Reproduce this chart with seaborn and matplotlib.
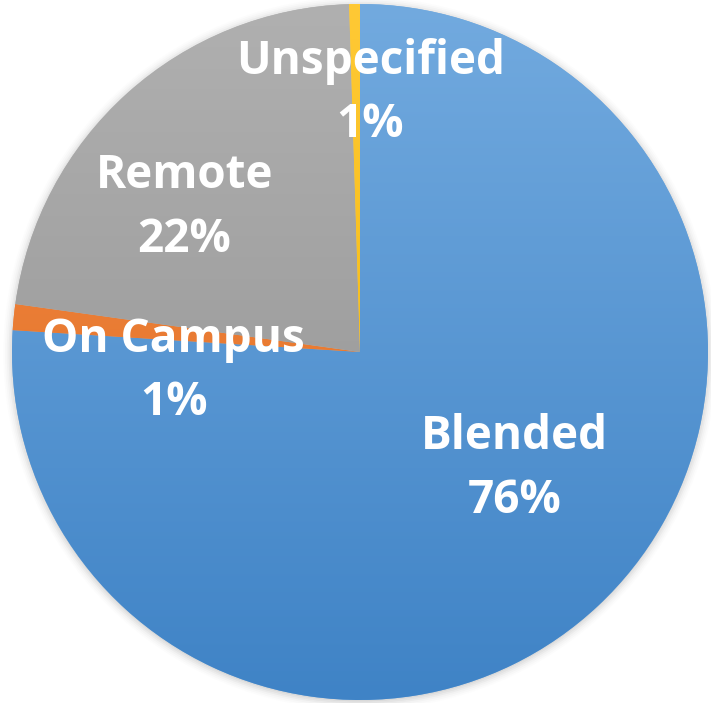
import numpy as np
import matplotlib
matplotlib.use("Agg")
import matplotlib.pyplot as plt
import seaborn as sns
from matplotlib.colors import LinearSegmentedColormap

sns.set_theme(style="white")
plt.rcParams['font.family'] = ['Open Sans', 'DejaVu Sans']

# --- data ---
modes = ["Blended", "On Campus", "Remote", "Unspecified"]
shares = [76.0, 1.2, 22.3, 0.5]
pct_text = ["76%", "1%", "22%", "1%"]
top_colors = ["#72aadf", "#f28a45", "#b0b0b0", "#ffc935"]
bottom_colors = ["#3f83c6", "#e06c20", "#8f8f8f", "#f0b400"]
label_pos = [(0.445, -0.335), (-0.535, -0.055), (-0.505, 0.415), (0.03, 0.745)]

fig = plt.figure(figsize=(7.11, 7.03), dpi=100)
ax = fig.add_axes([0, 0, 1, 1])

# soft shadow round the pie
for r, a in zip(np.linspace(1.0, 1.025, 6), [0.10, 0.08, 0.06, 0.04, 0.03, 0.02]):
    ax.add_patch(plt.Circle((0.0, -0.004), r, color="#808080", alpha=a, lw=0, zorder=0))

wedges, _ = ax.pie(shares, startangle=90, counterclock=False, radius=1.0,
                   colors=top_colors, wedgeprops=dict(linewidth=0))

# vertical gradient inside every wedge
grad = np.linspace(1, 0, 256).reshape(-1, 1)
for w, c1, c2 in zip(wedges, top_colors, bottom_colors):
    cmap = LinearSegmentedColormap.from_list("g", [c2, c1])
    im = ax.imshow(grad, cmap=cmap, extent=(-1, 1, -1, 1), aspect="auto",
                   origin="upper", zorder=1)
    im.set_clip_path(w)

for (x, y), name, pct in zip(label_pos, modes, pct_text):
    ax.text(x, y, f"{name}\n{pct}", ha="center", va="center", color="white",
            fontsize=33, fontweight="bold", linespacing=1.45, zorder=5)

ax.set_xlim(-360 / 348, 351 / 348)
ax.set_ylim(-351 / 348, 352 / 348)
ax.set_aspect("auto")
ax.axis("off")

fig.savefig("out.png", dpi=100)
